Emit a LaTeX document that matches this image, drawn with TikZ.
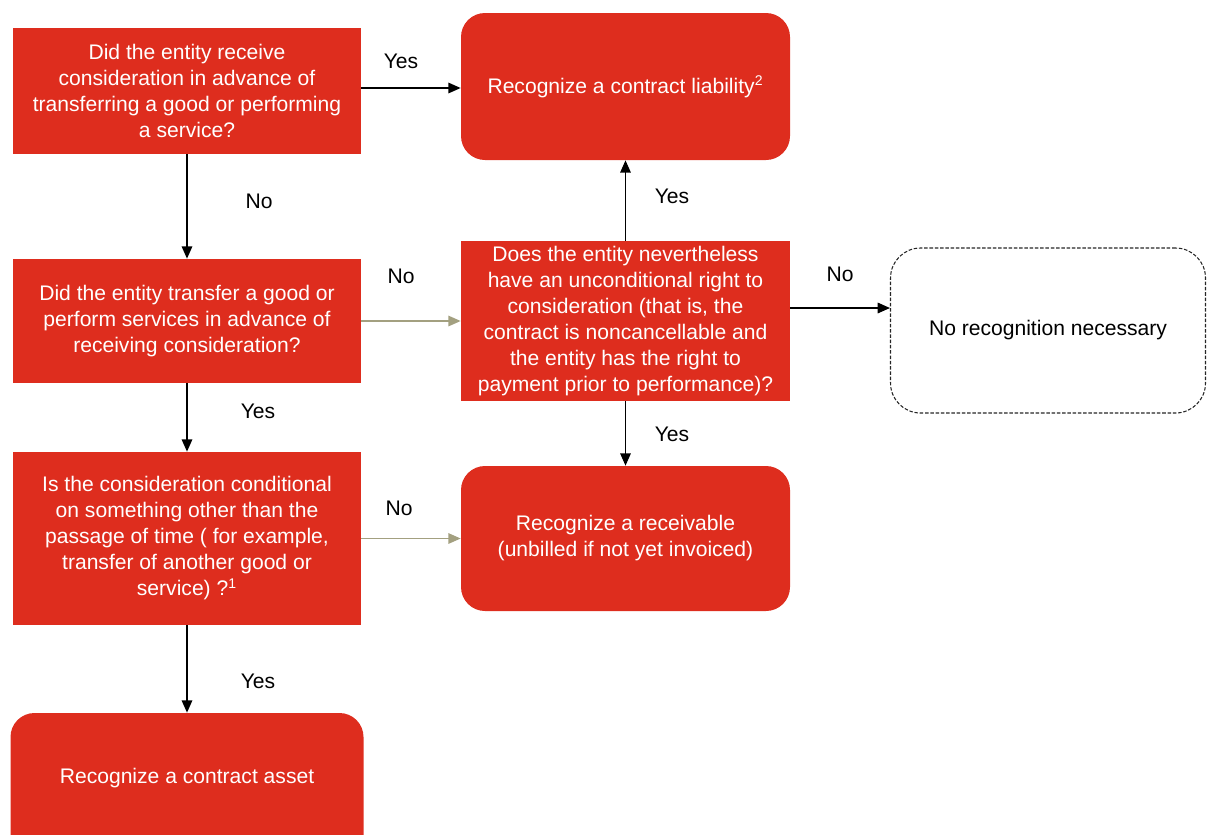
\documentclass[tikz,border=0pt]{standalone}
\usepackage{fontspec}
\setmainfont{Liberation Sans}
\usetikzlibrary{arrows.meta}
\definecolor{boxred}{HTML}{DE2D1E}
\definecolor{olivegray}{HTML}{A3A080}
\begin{document}
\begin{tikzpicture}[
  font=\fontsize{12}{14.8}\selectfont,
  >={Triangle[length=7pt,width=6pt]},
  question/.style={fill=boxred, text=white, align=center, inner sep=0pt},
  outcome/.style={fill=boxred, text=white, align=center, rounded corners=0.48cm, inner sep=0pt},
  lbl/.style={inner sep=0pt},
  link/.style={->, line width=0.8pt},
  softlink/.style={->, line width=0.8pt, draw=olivegray, olivegray}
]
\useasboundingbox (0,0) rectangle (24.14,-16.68);
\node[question, minimum width=6.96cm, minimum height=2.52cm] (q1) at (3.74,-1.82) {Did the entity receive\\consideration in advance of\\transferring a good or performing\\a service?};
\node[outcome, minimum width=6.58cm, minimum height=2.94cm] (liab) at (12.51,-1.73) {Recognize a contract liability\textsuperscript{2}};
\node[question, minimum width=6.96cm, minimum height=2.48cm] (q2) at (3.74,-6.42) {Did the entity transfer a good or\\perform services in advance of\\receiving consideration?};
\node[question, minimum width=6.58cm, minimum height=3.2cm] (q3) at (12.51,-6.42) {Does the entity nevertheless\\have an unconditional right to\\consideration (that is, the\\contract is noncancellable and\\the entity has the right to\\payment prior to performance)?};
\node[draw=black!85, line width=0.6pt, dash pattern=on 2pt off 1pt, rounded corners=0.6cm, align=center, minimum width=6.3cm, minimum height=3.3cm] (norec) at (20.96,-6.61) {No recognition necessary};
\node[question, minimum width=6.96cm, minimum height=3.46cm] (q4) at (3.74,-10.77) {Is the consideration conditional\\on something other than the\\passage of time ( for example,\\transfer of another good or\\service) ?\textsuperscript{1}};
\node[outcome, minimum width=6.58cm, minimum height=2.9cm] (recv) at (12.51,-10.77) {Recognize a receivable\\(unbilled if not yet invoiced)};
\node[outcome, minimum width=7.06cm, minimum height=3.0cm, text height=0.3cm, text depth=0.48cm] (asset) at (3.74,-15.76) {Recognize a contract asset};

\draw[link] ([yshift=0.06cm]q1.east) -- ([yshift=0.06cm]q1.east -| liab.west);
\draw[link] (q1) -- (q2);
\draw[softlink] (q2) -- (q3);
\draw[link] (q2) -- (q4);
\draw[link] (q3) -- (liab);
\draw[link] ([yshift=0.26cm]q3.east) -- ([yshift=0.26cm]q3.east -| norec.west);
\draw[link] (q3) -- (recv);
\draw[softlink] (q4) -- (recv);
\draw[link] (q4) -- (asset);

\node[lbl] (yes1) at (8.02,-1.22) {Yes};
\node[lbl] (no1) at (5.18,-4.02) {No};
\node[lbl] (no2) at (8.02,-5.52) {No};
\node[lbl] (yes2) at (5.16,-8.22) {Yes};
\node[lbl] (yes3) at (13.44,-3.92) {Yes};
\node[lbl] (no3) at (16.80,-5.48) {No};
\node[lbl] (yes4) at (13.44,-8.68) {Yes};
\node[lbl] (no4) at (7.98,-10.16) {No};
\node[lbl] (yes5) at (5.16,-13.62) {Yes};
\end{tikzpicture}
\end{document}
